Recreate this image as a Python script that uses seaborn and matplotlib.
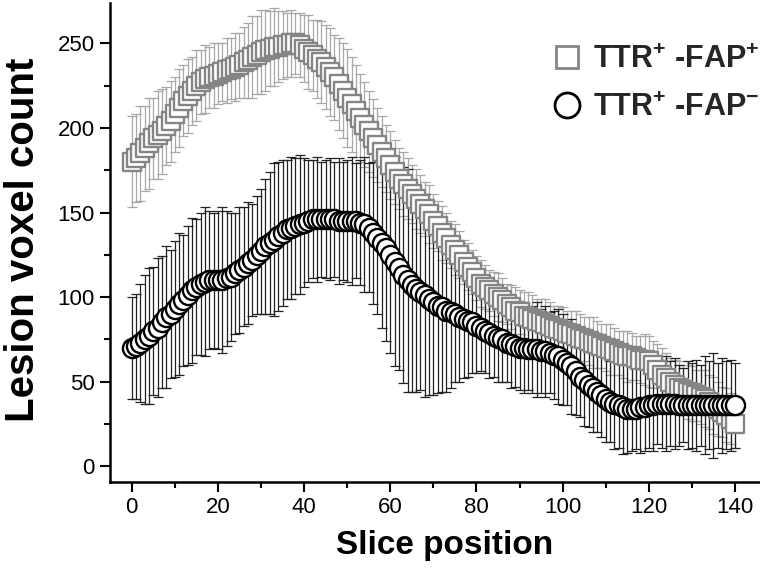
import matplotlib
matplotlib.use("Agg")
import matplotlib.pyplot as plt
from matplotlib.lines import Line2D
from matplotlib.ticker import MultipleLocator
import seaborn as sns

sns.set_theme(style="ticks")
plt.rcParams["font.family"] = ["Liberation Sans", "DejaVu Sans"]
plt.rcParams["mathtext.fontset"] = "custom"
plt.rcParams["mathtext.rm"] = "Liberation Sans:bold"
plt.rcParams["mathtext.bf"] = "Liberation Sans:bold"
plt.rcParams["mathtext.default"] = "bf"

# позиції зрізів 0..140
slice_pos = list(range(141))

# TTR+ -FAP+ (сірі квадрати): середнє та стандартне відхилення
fap_pos_mean = [
    180, 182, 185, 188, 191, 194, 196, 198, 201, 204,
    208, 212, 216, 219, 222, 225, 227, 229, 230, 231,
    232, 233, 234, 235, 236, 237, 239, 240, 242, 243,
    245, 246, 247, 248, 248, 249, 249, 250, 250, 249,
    247, 245, 243, 241, 239, 236, 233, 230, 226, 222,
    218, 214, 210, 206, 202, 198, 194, 190, 186, 182,
    178, 174, 170, 167, 164, 161, 158, 155, 152, 149,
    145, 142, 138, 135, 131, 128, 125, 121, 118, 115,
    111, 108, 106, 104, 102, 100, 98, 96, 94, 92,
    91, 89, 88, 87, 86, 85, 84, 83, 82, 81,
    80, 79, 78, 77, 76, 75, 74, 73, 72, 71,
    70, 69, 68, 67, 66, 65, 65, 64, 63, 63,
    62, 60, 57, 54, 52, 50, 48, 46, 45, 44,
    43, 42, 41, 40, 38, 36, 34, 32, 30, 28, 25,
]
fap_pos_sd = [
    27, 26, 28, 25, 27, 24, 26, 25, 23, 24,
    22, 23, 21, 22, 20, 21, 19, 20, 18, 19,
    18, 17, 19, 18, 20, 19, 21, 22, 24, 23,
    25, 24, 22, 23, 21, 20, 19, 20, 18, 19,
    20, 22, 21, 23, 24, 25, 26, 25, 27, 28,
    29, 28, 27, 26, 25, 24, 23, 22, 21, 20,
    20, 19, 18, 19, 18, 17, 18, 17, 16, 17,
    16, 15, 16, 15, 14, 15, 14, 13, 14, 13,
    13, 14, 13, 12, 13, 14, 13, 12, 13, 14,
    13, 14, 15, 14, 13, 14, 15, 14, 13, 14,
    14, 13, 14, 15, 14, 13, 14, 15, 14, 13,
    14, 15, 14, 13, 14, 15, 14, 13, 14, 15,
    15, 14, 15, 16, 15, 14, 15, 16, 15, 16,
    16, 15, 16, 17, 16, 17, 16, 15, 16, 15, 14,
]

# TTR+ -FAP- (чорні кола)
fap_neg_mean = [
    70, 71, 73, 75, 77, 80, 82, 85, 88, 90,
    93, 96, 98, 101, 104, 106, 108, 109, 110, 110,
    110, 110, 111, 112, 114, 116, 118, 120, 122, 125,
    127, 130, 132, 134, 136, 138, 140, 141, 142, 143,
    144, 145, 146, 146, 146, 146, 146, 146, 145, 145,
    145, 145, 145, 144, 143, 141, 138, 135, 132, 129,
    125, 121, 117, 113, 110, 107, 105, 103, 101, 99,
    97, 95, 94, 92, 91, 90, 88, 87, 86, 85,
    83, 82, 80, 79, 77, 76, 75, 73, 72, 71,
    70, 70, 69, 69, 69, 68, 68, 67, 66, 65,
    63, 61, 59, 56, 53, 51, 48, 46, 44, 42,
    40, 38, 37, 36, 35, 34, 34, 34, 35, 35,
    36, 36, 37, 37, 37, 37, 37, 36, 36, 36,
    36, 36, 36, 36, 36, 36, 36, 36, 36, 36, 36,
]
fap_neg_sd = [
    30, 31, 35, 38, 40, 38, 41, 39, 42, 38,
    40, 42, 39, 41, 43, 40, 42, 44, 41, 40,
    41, 43, 40, 38, 36, 37, 35, 36, 33, 35,
    37, 40, 42, 45, 44, 43, 41, 42, 40, 41,
    38, 36, 35, 37, 34, 35, 36, 34, 37, 35,
    36, 38, 34, 37, 40, 38, 42, 45, 50, 55,
    58, 62, 60, 64, 66, 63, 61, 58, 60, 57,
    55, 52, 50, 48, 45, 40, 38, 35, 33, 30,
    28, 26, 25, 27, 24, 26, 25, 23, 26, 24,
    25, 27, 24, 26, 28, 25, 27, 24, 26, 28,
    27, 25, 28, 26, 24, 27, 25, 26, 24, 25,
    26, 24, 27, 25, 28, 26, 25, 24, 27, 26,
    25, 27, 24, 26, 28, 25, 27, 24, 22, 26,
    25, 27, 24, 29, 26, 31, 25, 28, 26, 27, 25,
]

legend_labels = [r"TTR$^{+}$ -FAP$^{+}$", r"TTR$^{+}$ -FAP$^{-}$"]

gray_edge = "#858585"
gray_bar = "#a8a8a8"

fig = plt.figure(figsize=(7.6, 5.7), dpi=100)
ax = fig.add_axes([0.145, 0.154, 0.855, 0.841])

# --- похибки ---
ax.errorbar(slice_pos, fap_pos_mean, yerr=fap_pos_sd, fmt="none",
            ecolor=gray_bar, elinewidth=0.9, capsize=3.5, capthick=0.9, zorder=1)
ax.errorbar(slice_pos, fap_neg_mean, yerr=fap_neg_sd, fmt="none",
            ecolor="#222222", elinewidth=0.9, capsize=3.5, capthick=0.9, zorder=2)

# --- маркери ---
sns.scatterplot(x=slice_pos, y=fap_pos_mean, marker="s", s=150,
                facecolor="white", edgecolor=gray_edge, linewidth=1.7,
                legend=False, ax=ax, zorder=3)
sns.scatterplot(x=slice_pos, y=fap_neg_mean, marker="o", s=190,
                facecolor="white", edgecolor="black", linewidth=1.7,
                legend=False, ax=ax, zorder=4)

ax.set_xlim(-5, 145.8)
ax.set_ylim(-9.5, 274)
ax.xaxis.set_major_locator(MultipleLocator(20))
ax.xaxis.set_minor_locator(MultipleLocator(10))
ax.yaxis.set_major_locator(MultipleLocator(50))
ax.yaxis.set_minor_locator(MultipleLocator(25))
ax.tick_params(which="major", direction="out", length=7, width=1.5,
               labelsize=16, color="black", labelcolor="black", pad=4)
ax.tick_params(which="minor", direction="out", length=4, width=1.5, color="black")
sns.despine(ax=ax)
for side in ("left", "bottom"):
    ax.spines[side].set_linewidth(1.8)
    ax.spines[side].set_color("black")
ax.grid(False)

ax.set_xlabel("Slice position", fontsize=24, fontweight="bold", color="black")
ax.set_ylabel("Lesion voxel count", fontsize=29, fontweight="bold", color="black")
ax.xaxis.set_label_coords(0.514, -0.1)
ax.yaxis.set_label_coords(-0.105, 0.505)

handles = [
    Line2D([], [], linestyle="none", marker="s", markersize=16,
           markerfacecolor="white", markeredgecolor=gray_edge, markeredgewidth=2),
    Line2D([], [], linestyle="none", marker="o", markersize=18,
           markerfacecolor="white", markeredgecolor="black", markeredgewidth=2),
]
fig.legend(handles, legend_labels, loc="upper left", bbox_to_anchor=(0.69, 0.97),
           frameon=False, handlelength=1.0, handletextpad=0.35, labelspacing=0.6,
           prop={"size": 22, "weight": "bold"})

fig.savefig("out.png", dpi=100)
